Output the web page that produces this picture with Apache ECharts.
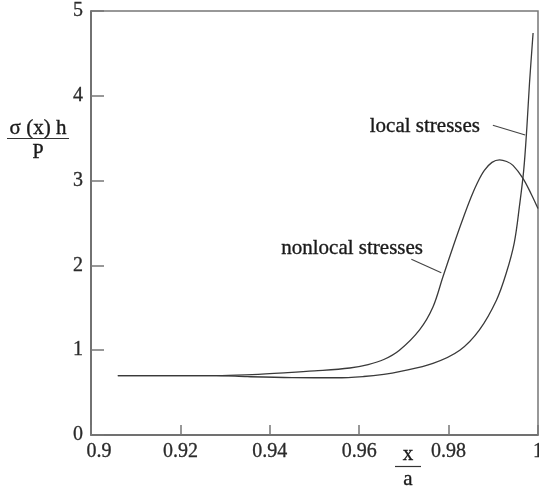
<!DOCTYPE html>
<html>
<head>
<meta charset="utf-8">
<script src="https://cdn.jsdelivr.net/npm/echarts@6/dist/echarts.min.js"></script>
<style>html,body{margin:0;padding:0;background:#fff}#c{width:539px;height:487px}</style>
</head>
<body>
<div id="c"></div>
<script>
// x/a tick labels
var xTicks = [0.9, 0.92, 0.94, 0.96, 0.98, 1.0];
var xTickLabels = ['0.9', '0.92', '0.94', '0.96', '0.98', '1'];
var yTickLabels = ['0', '1', '2', '3', '4', '5'];

// local stresses
var localX = [0.906, 0.915, 0.928, 0.935, 0.945, 0.955, 0.961, 0.9655, 0.969, 0.9765, 0.9825, 0.9869, 0.9907, 0.9929, 0.9947, 0.9959, 0.9968, 0.9975, 0.9981, 0.9989];
var localY = [0.70, 0.70, 0.70, 0.688, 0.677, 0.675, 0.69, 0.715, 0.747, 0.845, 1.00, 1.24, 1.59, 1.91, 2.27, 2.72, 3.12, 3.62, 4.15, 4.74];

// nonlocal stresses
var nonlocalX = [0.906, 0.915, 0.928, 0.936, 0.944, 0.950, 0.9579, 0.962, 0.9655, 0.969, 0.9735, 0.9765, 0.9787, 0.981, 0.983, 0.985, 0.9865, 0.988, 0.9897, 0.9914, 0.993, 0.9944, 0.9966, 0.9985, 1.0];
var nonlocalY = [0.70, 0.70, 0.70, 0.713, 0.735, 0.755, 0.79, 0.83, 0.89, 1.00, 1.24, 1.51, 1.86, 2.22, 2.52, 2.80, 2.98, 3.12, 3.215, 3.245, 3.225, 3.18, 3.03, 2.84, 2.67];

// annotation leader lines [x1, y1, x2, y2]
var localLeader = [0.9899, 3.652, 0.99714, 3.538];
var nonlocalLeader = [0.97167, 2.072, 0.97837, 1.914];

function pairs(xs, ys) { return xs.map(function (x, i) { return [x, ys[i]]; }); }

var FONT = '"Liberation Serif", "DejaVu Serif", serif';
var chart = echarts.init(document.getElementById('c'));

var leaderStyle = { color: '#444', width: 1.1, type: 'solid' };
function leader(a) {
  return {
    silent: true, symbol: ['none', 'none'], label: { show: false }, lineStyle: leaderStyle,
    animation: false, emphasis: { disabled: true },
    data: [[{ coord: [a[0], a[1]] }, { coord: [a[2], a[3]] }]]
  };
}

function txt(x, y, s, size, align) {
  return { type: 'text', silent: true, style: { x: x, y: y, text: s, align: align || 'center', verticalAlign: 'middle',
    font: size + 'px ' + FONT, fill: '#1a1a1a', stroke: '#1a1a1a', lineWidth: 0.35 } };
}

chart.setOption({
  animation: false,
  grid: { left: 91, right: 1, top: 11, bottom: 52, containLabel: false, outerBoundsMode: 'none',
          show: true, borderColor: '#777', borderWidth: 1.5, backgroundColor: 'transparent' },
  xAxis: {
    type: 'value', min: 0.9, max: 1.0, interval: 0.02,
    axisLine: { show: true, lineStyle: { color: '#666', width: 1.5 } },
    axisTick: { show: true, inside: true, length: 10, lineStyle: { color: '#777', width: 1.5 } },
    splitLine: { show: false },
    axisLabel: {
      margin: 7, color: '#2a2a2a', fontFamily: FONT, fontSize: 20, textBorderColor: '#2a2a2a', textBorderWidth: 0.3,
      showMaxLabel: true, showMinLabel: true,
      formatter: function (v) {
        var i = xTicks.findIndex(function (t) { return Math.abs(t - v) < 1e-6; });
        if (i === 0) return '{f|' + xTickLabels[0] + '}';
        return i >= 0 ? xTickLabels[i] : '';
      },
      rich: { f: { padding: [0, 0, 0, 16], fontFamily: FONT, fontSize: 20, color: '#2a2a2a', textBorderColor: '#2a2a2a', textBorderWidth: 0.3 } }
    }
  },
  yAxis: {
    type: 'value', min: 0, max: 5, interval: 1,
    axisLine: { show: true, lineStyle: { color: '#666', width: 1.5 } },
    axisTick: { show: true, inside: true, length: 13, lineStyle: { color: '#777', width: 1.5 } },
    splitLine: { show: false },
    axisLabel: {
      margin: 8, color: '#2a2a2a', fontFamily: FONT, fontSize: 20, textBorderColor: '#2a2a2a', textBorderWidth: 0.3,
      formatter: function (v) { return yTickLabels[Math.round(v)]; }
    }
  },
  series: [
    {
      name: 'local stresses', type: 'line', data: pairs(localX, localY),
      smooth: 0.35, showSymbol: false, symbol: 'none',
      lineStyle: { color: '#3a3a3a', width: 1.3 },
      markLine: leader(localLeader)
    },
    {
      name: 'nonlocal stresses', type: 'line', data: pairs(nonlocalX, nonlocalY),
      smooth: 0.35, showSymbol: false, symbol: 'none',
      lineStyle: { color: '#3a3a3a', width: 1.3 },
      markLine: leader(nonlocalLeader)
    }
  ],
  graphic: [
    txt(480, 126, 'local stresses', 21, 'right'),
    txt(423, 248, 'nonlocal stresses', 21, 'right'),
    txt(38, 128, 'σ (x) h', 21),
    { type: 'line', silent: true, shape: { x1: 7, y1: 138.5, x2: 69, y2: 138.5 }, style: { stroke: '#333', lineWidth: 1.2 } },
    txt(38, 153, 'P', 20),
    txt(408, 454, 'x', 21),
    { type: 'line', silent: true, shape: { x1: 395, y1: 466.5, x2: 421, y2: 466.5 }, style: { stroke: '#333', lineWidth: 1.2 } },
    txt(408, 479, 'a', 21)
  ]
});
</script>
</body>
</html>
